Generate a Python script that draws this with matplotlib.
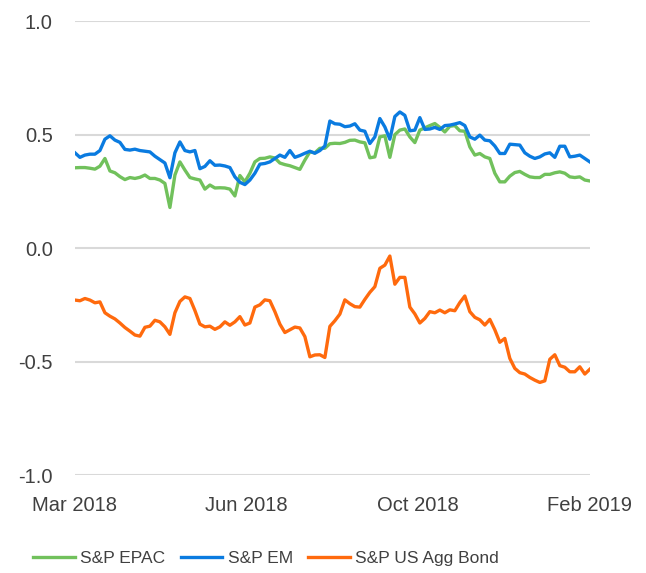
import numpy as np
import matplotlib.pyplot as plt

# datos (correlacion movil)
epac = [0.354, 0.355, 0.355, 0.352, 0.348, 0.361, 0.395, 0.340, 0.332, 0.315,
        0.302, 0.311, 0.307, 0.312, 0.322, 0.307, 0.307, 0.300, 0.285, 0.179,
        0.322, 0.380, 0.344, 0.311, 0.305, 0.300, 0.260, 0.278, 0.265, 0.266,
        0.265, 0.260, 0.230, 0.320, 0.292, 0.330, 0.380, 0.395, 0.396, 0.402,
        0.397, 0.375, 0.368, 0.363, 0.355, 0.347, 0.388, 0.424, 0.420, 0.440,
        0.440, 0.460, 0.462, 0.461, 0.466, 0.475, 0.476, 0.468, 0.464, 0.398,
        0.402, 0.490, 0.495, 0.400, 0.500, 0.520, 0.525, 0.490, 0.465, 0.520,
        0.530, 0.540, 0.549, 0.532, 0.512, 0.537, 0.540, 0.517, 0.515, 0.446,
        0.410, 0.417, 0.402, 0.395, 0.330, 0.292, 0.292, 0.317, 0.333, 0.338,
        0.325, 0.314, 0.311, 0.311, 0.325, 0.325, 0.332, 0.336, 0.330, 0.314,
        0.311, 0.314, 0.300, 0.296]

em = [0.420, 0.400, 0.410, 0.414, 0.414, 0.430, 0.480, 0.495, 0.476, 0.466,
      0.435, 0.432, 0.436, 0.430, 0.427, 0.424, 0.405, 0.390, 0.375, 0.310,
      0.420, 0.468, 0.430, 0.424, 0.430, 0.350, 0.360, 0.385, 0.365, 0.366,
      0.362, 0.355, 0.314, 0.290, 0.280, 0.300, 0.330, 0.370, 0.373, 0.380,
      0.395, 0.410, 0.400, 0.430, 0.400, 0.408, 0.418, 0.427, 0.418, 0.430,
      0.450, 0.560, 0.548, 0.546, 0.535, 0.538, 0.548, 0.520, 0.515, 0.461,
      0.490, 0.571, 0.534, 0.480, 0.580, 0.600, 0.585, 0.517, 0.520, 0.575,
      0.523, 0.525, 0.532, 0.523, 0.540, 0.542, 0.547, 0.553, 0.540, 0.490,
      0.480, 0.498, 0.476, 0.473, 0.450, 0.417, 0.417, 0.458, 0.456, 0.454,
      0.420, 0.405, 0.395, 0.402, 0.415, 0.420, 0.400, 0.449, 0.449, 0.402,
      0.405, 0.410, 0.395, 0.380]

agg_bond = [-0.229, -0.232, -0.222, -0.229, -0.241, -0.237, -0.285, -0.300, -0.312, -0.330,
            -0.350, -0.366, -0.383, -0.388, -0.349, -0.344, -0.318, -0.325, -0.347, -0.380,
            -0.285, -0.235, -0.215, -0.222, -0.275, -0.335, -0.347, -0.344, -0.358, -0.347,
            -0.325, -0.340, -0.325, -0.302, -0.339, -0.330, -0.260, -0.250, -0.228, -0.232,
            -0.280, -0.335, -0.372, -0.360, -0.348, -0.352, -0.390, -0.479, -0.471, -0.470,
            -0.482, -0.345, -0.320, -0.291, -0.228, -0.245, -0.258, -0.260, -0.226, -0.195,
            -0.170, -0.089, -0.075, -0.035, -0.159, -0.129, -0.129, -0.260, -0.290, -0.330,
            -0.310, -0.280, -0.285, -0.273, -0.285, -0.272, -0.276, -0.240, -0.211, -0.280,
            -0.305, -0.316, -0.339, -0.314, -0.360, -0.415, -0.398, -0.486, -0.530, -0.549,
            -0.555, -0.570, -0.582, -0.592, -0.585, -0.490, -0.470, -0.518, -0.525, -0.545,
            -0.545, -0.523, -0.555, -0.534]

series_names = ["S&P EPAC", "S&P EM", "S&P US Agg Bond"]
x_labels = ["Mar 2018", "Jun 2018", "Oct 2018", "Feb 2019"]
y_ticks = [-1.0, -0.5, 0.0, 0.5, 1.0]

plt.rcParams['font.family'] = ['Liberation Sans', 'DejaVu Sans']
texto = '#404040'

n = len(epac)
x = np.arange(n)

fig = plt.figure(figsize=(6.46, 5.73), dpi=100)
ax = fig.add_axes([0.116, 0.171, 0.797, 0.792])

# lineas
ax.plot(x, epac, color='#71c15c', lw=2.4, label=series_names[0], zorder=3)
ax.plot(x, em, color='#0a7be0', lw=2.4, label=series_names[1], zorder=4)
ax.plot(x, agg_bond, color='#ff6a0d', lw=2.4, label=series_names[2], zorder=3)

# ejes y rejilla
ax.set_xlim(0, n - 1)
ax.set_ylim(-1.0, 1.0)
ax.set_yticks(y_ticks)
ax.set_yticklabels([f"{v:.1f}" for v in y_ticks])
ax.set_xticks(np.linspace(0, n - 1, len(x_labels)))
ax.set_xticklabels(x_labels)
ax.grid(axis='y', color='#d9d9d9', lw=1.5)
ax.set_axisbelow(True)
for s in ax.spines.values():
    s.set_visible(False)
ax.tick_params(length=0, labelsize=14.5, colors=texto)
ax.tick_params(axis='y', pad=16)
ax.tick_params(axis='x', pad=15)

ax.legend(loc='center', bbox_to_anchor=(0.371, -0.183), ncol=3, frameon=False,
          fontsize=12.5, labelcolor=texto, handlelength=2.4, handletextpad=0.3,
          columnspacing=0.9)

fig.savefig('out.png', dpi=100)
